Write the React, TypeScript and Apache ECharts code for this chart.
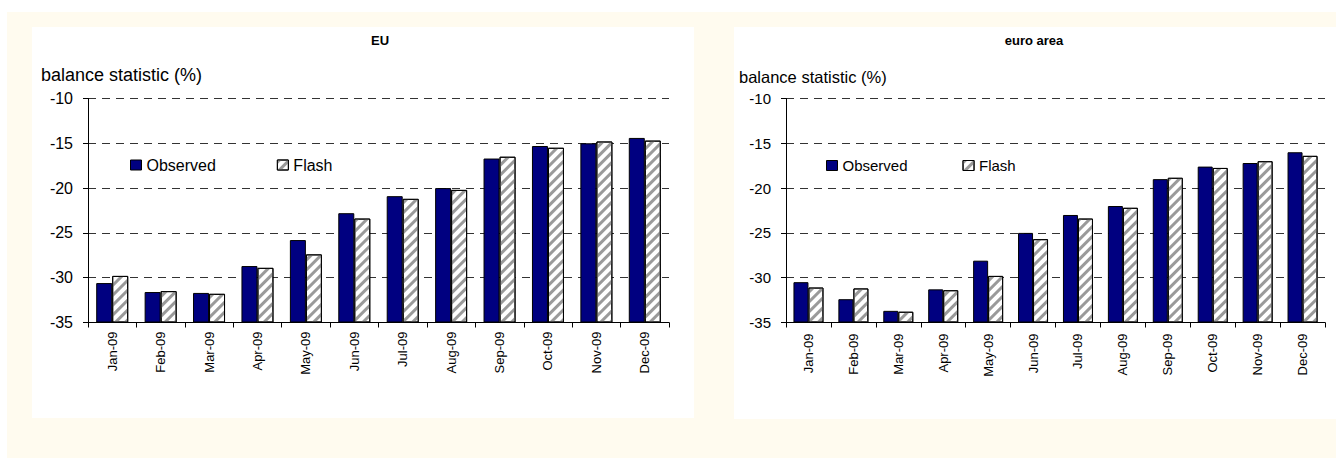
import React, { useEffect, useRef } from "react";
import * as echarts from "echarts";

// Months shown on both panels
const months = [
  "Jan-09", "Feb-09", "Mar-09", "Apr-09", "May-09", "Jun-09",
  "Jul-09", "Aug-09", "Sep-09", "Oct-09", "Nov-09", "Dec-09",
];

// EU consumer confidence, balance statistic (%)
const euObserved = [-30.6, -31.6, -31.7, -28.7, -25.8, -22.8, -20.9, -20.0, -16.7, -15.3, -15.0, -14.4];
const euFlash = [-29.8, -31.5, -31.8, -28.9, -27.4, -23.4, -21.2, -20.2, -16.5, -15.5, -14.8, -14.7];

// Euro area consumer confidence, balance statistic (%)
const eaObserved = [-30.5, -32.4, -33.7, -31.3, -28.1, -25.0, -23.0, -22.0, -19.0, -17.6, -17.2, -16.0];
const eaFlash = [-31.1, -31.2, -33.8, -31.4, -29.8, -25.7, -23.4, -22.2, -18.85, -17.75, -17.0, -16.4];

// Value axis range; bars rise from the axis floor, so values are measured from it
const yTicks = { min: -35, max: -10, step: 5 };
const fromFloor = (v: number) => +(v - yTicks.min).toFixed(4);

const FONT = "'Liberation Sans', Arial, sans-serif";
const NAVY = "#000080";

const stripes = {
  symbol: "rect",
  symbolSize: 1,
  dashArrayX: [1, 0],
  dashArrayY: [3, 4],
  rotation: -Math.PI / 4,
  color: "#9a9a9a",
};

function xAxisFor(gridIndex: number) {
  return {
    type: "category",
    gridIndex,
    data: months,
    boundaryGap: true,
    axisLine: { show: true, onZero: false, lineStyle: { color: "#000", width: 1 } },
    axisTick: { show: true, interval: 0, length: 5, lineStyle: { color: "#000" } },
    axisLabel: {
      interval: 0,
      rotate: 90,
      margin: gridIndex === 0 ? 9 : 11,
      fontFamily: FONT,
      fontSize: 13,
      color: "#000",
    },
    splitLine: { show: false },
  };
}

function yAxisFor(gridIndex: number, fontSize: number) {
  return {
    type: "value",
    gridIndex,
    min: 0,
    max: yTicks.max - yTicks.min,
    interval: yTicks.step,
    axisLine: { show: true, lineStyle: { color: "#000", width: 1 } },
    axisTick: { show: true, length: 5, lineStyle: { color: "#000" } },
    axisLabel: {
      margin: 15,
      fontFamily: FONT,
      fontSize,
      color: "#000",
      formatter: (v: number) => String(v + yTicks.min),
    },
    splitLine: { show: true, lineStyle: { color: "#333", width: 1, type: [8, 6] } },
  };
}

function barsFor(gridIndex: number, observed: number[], flash: number[], barWidth: number) {
  return [
    {
      name: "Observed",
      type: "bar",
      xAxisIndex: gridIndex,
      yAxisIndex: gridIndex,
      data: observed.map(fromFloor),
      barWidth,
      barGap: "0%",
      itemStyle: { color: NAVY, borderColor: "#000", borderWidth: 1 },
    },
    {
      name: "Flash",
      type: "bar",
      xAxisIndex: gridIndex,
      yAxisIndex: gridIndex,
      data: flash.map(fromFloor),
      barWidth,
      barGap: "0%",
      itemStyle: { color: "#fff", borderColor: "#000", borderWidth: 1, decal: stripes },
    },
  ];
}

function legendFor(left: number, top: number, fontSize: number, gap: number) {
  return {
    left,
    top,
    padding: 0,
    orient: "horizontal",
    icon: "rect",
    itemWidth: 11,
    itemHeight: 10,
    itemGap: gap,
    selectedMode: false,
    data: ["Observed", "Flash"],
    textStyle: { fontFamily: FONT, fontSize, color: "#000" },
    itemStyle: { borderColor: "#000", borderWidth: 1 },
  };
}

function label(text: string, x: number, y: number, size: number, bold = false, align = "left") {
  return {
    type: "text",
    x,
    y,
    style: {
      text,
      fill: "#000",
      font: `${bold ? "bold " : ""}${size}px ${FONT}`,
      align,
      verticalAlign: "middle",
    },
  };
}

export default function App() {
  const ref = useRef<HTMLDivElement>(null);

  useEffect(() => {
    if (!ref.current) return;
    const chart = echarts.init(ref.current, undefined, { renderer: "svg" });
    chart.setOption({
      animation: false,
      backgroundColor: "transparent",
      grid: [
        { left: 88, top: 98.5, width: 581, height: 224 },
        { left: 786, top: 98.5, width: 539, height: 224 },
      ],
      xAxis: [xAxisFor(0), xAxisFor(1)],
      yAxis: [yAxisFor(0, 16), yAxisFor(1, 15)],
      legend: [legendFor(130, 157, 16, 61), legendFor(826, 158, 15, 55)],
      series: [
        ...barsFor(0, euObserved, euFlash, 16),
        ...barsFor(1, eaObserved, eaFlash, 15),
      ],
      graphic: {
        elements: [
          label("EU", 380, 40, 13, true, "center"),
          label("balance statistic (%)", 41, 75, 18),
          label("euro area", 1034, 40, 13, true, "center"),
          label("balance statistic (%)", 739, 77, 16.5),
        ],
      },
    });
    return () => chart.dispose();
  }, []);

  return (
    <div style={{ position: "absolute", left: 0, top: 0, width: 1336, height: 458, background: "#fff", overflow: "hidden" }}>
      <div style={{ position: "absolute", left: 7, top: 12, width: 1329, height: 446, background: "#fffbef" }} />
      <div style={{ position: "absolute", left: 32, top: 27, width: 662, height: 391, background: "#fff" }} />
      <div style={{ position: "absolute", left: 734, top: 27, width: 602, height: 392, background: "#fff" }} />
      <div ref={ref} style={{ position: "absolute", left: 0, top: 0, width: 1336, height: 458 }} />
    </div>
  );
}
